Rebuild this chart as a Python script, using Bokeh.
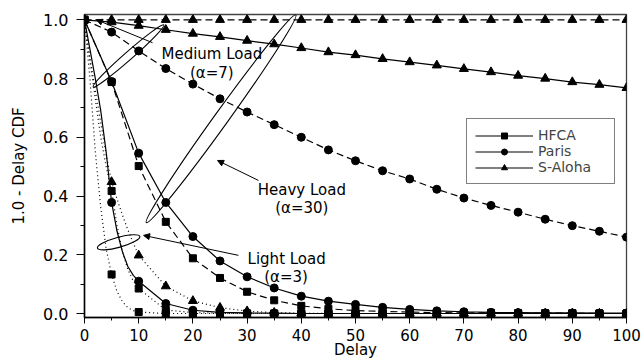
from bokeh.plotting import figure
from bokeh.models import (Range1d, SingleIntervalTicker, PrintfTickFormatter, Legend, LegendItem,
                          Arrow, NormalHead, Label)
from bokeh.embed import file_html
from bokeh.resources import INLINE

# ---------------- data ----------------
delay = [0, 5, 10, 15, 20, 25, 30, 35, 40, 45, 50, 55, 60, 65, 70, 75, 80, 85, 90, 95, 100]

hfca_heavy = [1.0, 0.788, 0.502, 0.312, 0.188, 0.121, 0.074, 0.045, 0.026, 0.016, 0.010,
              0.007, 0.005, 0.003, 0.002, 0.002, 0.001, 0.001, 0.001, 0.0, 0.0]
hfca_medium = [1.0, 0.417, 0.085, 0.012, 0.003, 0.001, 0.0, 0.0, 0.0, 0.0, 0.0,
               0.0, 0.0, 0.0, 0.0, 0.0, 0.0, 0.0, 0.0, 0.0, 0.0]
hfca_light = [1.0, 0.133, 0.005, 0.0, 0.0, 0.0, 0.0, 0.0, 0.0, 0.0, 0.0,
              0.0, 0.0, 0.0, 0.0, 0.0, 0.0, 0.0, 0.0, 0.0, 0.0]

paris_heavy = [1.0, 0.958, 0.894, 0.834, 0.781, 0.731, 0.686, 0.643, 0.600, 0.557, 0.520,
               0.486, 0.458, 0.423, 0.393, 0.368, 0.345, 0.321, 0.299, 0.280, 0.260]
paris_medium = [1.0, 0.790, 0.546, 0.378, 0.262, 0.179, 0.125, 0.087, 0.059, 0.042, 0.031,
                0.021, 0.014, 0.009, 0.006, 0.004, 0.003, 0.002, 0.002, 0.001, 0.001]
paris_light = [1.0, 0.378, 0.110, 0.034, 0.011, 0.004, 0.002, 0.001, 0.0, 0.0, 0.0,
               0.0, 0.0, 0.0, 0.0, 0.0, 0.0, 0.0, 0.0, 0.0, 0.0]

aloha_heavy = [1.0, 1.0, 1.0, 1.0, 1.0, 1.0, 1.0, 1.0, 1.0, 1.0, 1.0,
               1.0, 1.0, 1.0, 1.0, 1.0, 1.0, 1.0, 1.0, 1.0, 1.0]
aloha_medium = [1.0, 0.992, 0.980, 0.966, 0.953, 0.942, 0.929, 0.917, 0.904, 0.890, 0.880,
                0.867, 0.856, 0.845, 0.833, 0.822, 0.810, 0.800, 0.788, 0.779, 0.768]
aloha_light = [1.0, 0.448, 0.198, 0.093, 0.043, 0.020, 0.008, 0.003, 0.001, 0.0, 0.0,
               0.0, 0.0, 0.0, 0.0, 0.0, 0.0, 0.0, 0.0, 0.0, 0.0]

delay_early = [1, 2, 3, 4, 6, 7, 8, 9]
hfca_light_early = [0.80, 0.55, 0.36, 0.22, 0.075, 0.040, 0.020, 0.010]
hfca_medium_early = [0.86, 0.73, 0.60, 0.50, 0.30, 0.21, 0.15, 0.11]
paris_light_early = [0.90, 0.80, 0.69, 0.55, 0.28, 0.21, 0.16, 0.13]
aloha_light_early = [0.87, 0.76, 0.65, 0.54, 0.39, 0.335, 0.285, 0.24]

legend_labels = ["HFCA", "Paris", "S-Aloha"]

FONT = "DejaVu Sans"


def merged(base, early):
    pts = dict(zip(delay, base))
    pts.update(dict(zip(delay_early, early)))
    xs = sorted(pts)
    return xs, [pts[k] for k in xs]


p = figure(frame_width=542, frame_height=303,
           x_range=Range1d(0, 100), y_range=Range1d(-0.0136, 1.018),
           output_backend="svg", toolbar_location=None,
           min_border_left=84, min_border_top=14, min_border_right=18, min_border_bottom=42,
           background_fill_color="white", border_fill_color="white")
p.grid.visible = False
p.outline_line_color = "#444444"
p.outline_line_width = 1.3

p.xaxis.ticker = SingleIntervalTicker(interval=10, num_minor_ticks=2)
p.yaxis.ticker = SingleIntervalTicker(interval=0.2, num_minor_ticks=2)
p.yaxis.formatter = PrintfTickFormatter(format="%.1f")
for ax in (p.xaxis, p.yaxis):
    ax.axis_line_width = 1.5
    ax.axis_line_color = "black"
    ax.major_tick_line_color = "black"
    ax.minor_tick_line_color = "black"
    ax.major_tick_in = 0
    ax.minor_tick_in = 0
    ax.major_label_text_font = FONT
    ax.major_label_text_font_size = "16px"
    ax.major_label_text_color = "black"
    ax.axis_label_text_font = FONT
    ax.axis_label_text_font_size = "15px"
    ax.axis_label_text_font_style = "normal"
    ax.axis_label_text_color = "black"
p.xaxis.major_label_text_font_size = "15px"
p.xaxis.major_tick_out = 6
p.xaxis.minor_tick_out = 3
p.yaxis.major_tick_out = 8
p.yaxis.minor_tick_out = 4
p.xaxis.major_label_standoff = 5
p.yaxis.major_label_standoff = 8
p.xaxis.axis_label = "Delay"
p.xaxis.axis_label_standoff = -3
p.yaxis.axis_label = "1.0 - Delay CDF"
p.yaxis.axis_label_standoff = 12

DASH = "7 4"
DOT = "1 3"
LW = 1.2

series = [
    # (values, early, dash, marker, size)
    (hfca_heavy, None, DASH, "square", 7),
    (hfca_medium, hfca_medium_early, DOT, "square", 7),
    (hfca_light, hfca_light_early, DOT, "square", 7),
    (paris_heavy, None, DASH, "circle", 8),
    (paris_medium, None, "solid", "circle", 8),
    (paris_light, paris_light_early, "solid", "circle", 8),
    (aloha_heavy, None, DASH, "triangle", 9),
    (aloha_medium, None, "solid", "triangle", 9),
    (aloha_light, aloha_light_early, DOT, "triangle", 9),
]
for vals, early, dash, marker, size in series:
    if early is None:
        lx, ly = delay, vals
    else:
        lx, ly = merged(vals, early)
    p.line(lx, ly, line_color="black", line_width=LW, line_dash=dash)
    p.scatter(delay, vals, marker=marker, size=size, color="black")

# ---------------- annotations ----------------
loops = [  # centre x, centre y (data), length, thickness (px), angle (rad)
    (8.12, 0.877, 94, 8, 0.72),
    (25.2, 0.663, 256, 14, 0.947),
    (6.3, 0.2425, 44, 10, 0.27),
]
for cx, cy, w, h, a in loops:
    p.ellipse(x=[cx], y=[cy], width=[w], height=[h], angle=[a],
              width_units="screen", height_units="screen",
              fill_color=None, line_color="black", line_width=1.1)

arrows = [  # start -> end (data)
    (12.55, 0.922, 2.2, 1.0),
    (32.1, 0.453, 24.55, 0.521),
    (28.4, 0.198, 10.9, 0.266),
]
for xs, ys, xe, ye in arrows:
    p.add_layout(Arrow(end=NormalHead(size=6, fill_color="black", line_color="black"),
                       x_start=xs, y_start=ys, x_end=xe, y_end=ye,
                       line_color="black", line_width=1))

notes = [
    ("Medium Load", 23.5, 0.885),
    ("(α=7)", 23.5, 0.818),
    ("Heavy Load", 40.1, 0.419),
    ("(α=30)", 40.1, 0.358),
    ("Light Load", 37.3, 0.185),
    ("(α=3)", 37.2, 0.123),
]
for t, x, y in notes:
    p.add_layout(Label(x=x, y=y, text=t, text_align="center", text_baseline="middle",
                       text_font=FONT, text_font_size="15px", text_color="black"))

# ---------------- legend ----------------
nan = float("nan")
items = []
for lab, marker, size in zip(legend_labels, ["square", "circle", "triangle"], [7, 8, 9]):
    lr = p.line([nan], [nan], line_color="black", line_width=LW)
    mr = p.scatter([nan], [nan], marker=marker, size=size, color="black")
    items.append(LegendItem(label=lab, renderers=[lr, mr], index=0))
legend = Legend(items=items, location=(382, 133), border_line_color="black",
                border_line_width=1, background_fill_color="white", background_fill_alpha=1,
                label_text_font=FONT, label_text_font_size="14px", glyph_width=58,
                glyph_height=15, label_height=15, label_width=68, label_standoff=5,
                padding=8, spacing=0, margin=0)
p.add_layout(legend)

open("out.html", "w").write(file_html(p, INLINE))
